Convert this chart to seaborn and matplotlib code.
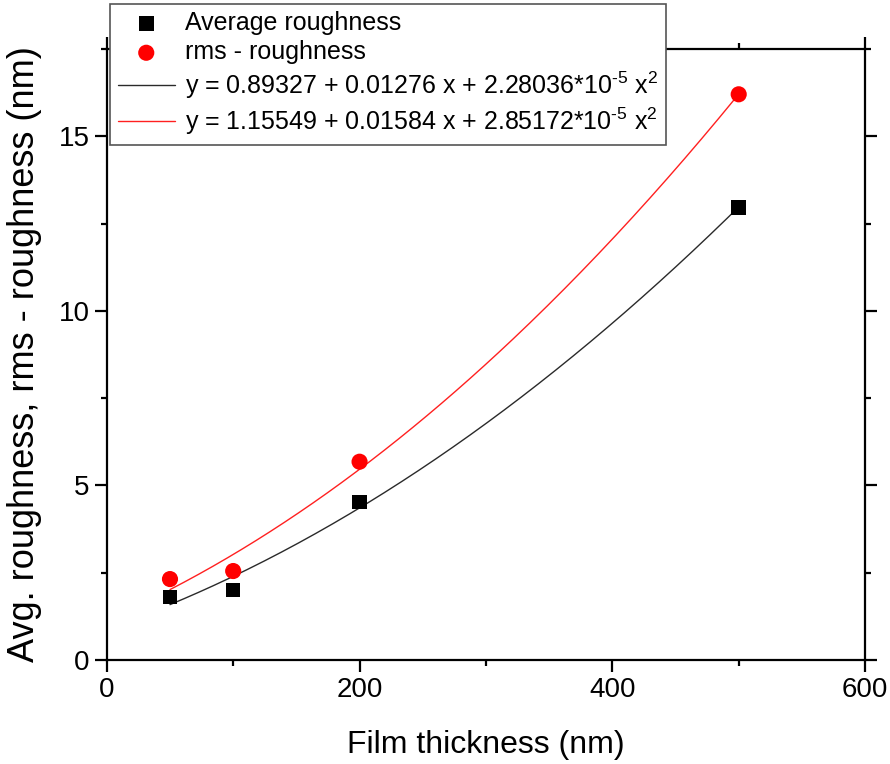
import numpy as np
import pandas as pd
import matplotlib
matplotlib.use("Agg")
import matplotlib.pyplot as plt
from matplotlib.ticker import MultipleLocator
import seaborn as sns

# Measured roughness versus film thickness
thickness = [50, 100, 200, 500]
avg_roughness = [1.81, 2.01, 4.53, 12.96]
rms_roughness = [2.32, 2.55, 5.68, 16.20]

# Quadratic fit coefficients (c0, c1, c2)
avg_fit = [0.89327, 0.01276, 2.28036e-5]
rms_fit = [1.15549, 0.01584, 2.85172e-5]

avg_label = "Average roughness"
rms_label = "rms - roughness"
avg_fit_label = r"y = 0.89327 + 0.01276 x + 2.28036*10$^{\text{-5}}$ x$^{\mathregular{2}}$"
rms_fit_label = r"y = 1.15549 + 0.01584 x + 2.85172*10$^{\text{-5}}$ x$^{\mathregular{2}}$"

sns.set_theme(style="white")
plt.rcParams["font.family"] = ["Liberation Sans", "DejaVu Sans"]
plt.rcParams["mathtext.fontset"] = "custom"
plt.rcParams["mathtext.rm"] = "Liberation Sans"
plt.rcParams["mathtext.default"] = "regular"
plt.rcParams["text.color"] = "black"
plt.rcParams["axes.labelcolor"] = "black"
plt.rcParams["xtick.color"] = "black"
plt.rcParams["ytick.color"] = "black"

fig = plt.figure(figsize=(8.9, 7.64), dpi=100)
ax = fig.add_axes([0.120, 0.136, 0.852, 0.800])

pts = pd.DataFrame({"x": thickness, "avg": avg_roughness, "rms": rms_roughness})
xs = np.linspace(min(thickness), max(thickness), 200)
curves = pd.DataFrame({
    "x": xs,
    "avg": avg_fit[0] + avg_fit[1] * xs + avg_fit[2] * xs ** 2,
    "rms": rms_fit[0] + rms_fit[1] * xs + rms_fit[2] * xs ** 2,
})

sns.lineplot(data=curves, x="x", y="avg", ax=ax, color="#2a2a2a", lw=1.0,
             label=avg_fit_label, zorder=2)
sns.lineplot(data=curves, x="x", y="rms", ax=ax, color="#ff2020", lw=1.0,
             label=rms_fit_label, zorder=2)
sns.scatterplot(data=pts, x="x", y="avg", ax=ax, marker="s", s=110, color="black",
                edgecolor="none", label=avg_label, zorder=3)
sns.scatterplot(data=pts, x="x", y="rms", ax=ax, marker="o", s=135, color="#ff0000",
                edgecolor="none", label=rms_label, zorder=3)

handles, labels = ax.get_legend_handles_labels()
if ax.get_legend() is not None:
    ax.get_legend().remove()

ax.set_xlim(0, 600)
ax.set_ylim(0, 17.5)
ax.xaxis.set_major_locator(MultipleLocator(200))
ax.xaxis.set_minor_locator(MultipleLocator(100))
ax.yaxis.set_major_locator(MultipleLocator(5))
ax.yaxis.set_minor_locator(MultipleLocator(2.5))

for sp in ax.spines.values():
    sp.set_visible(True)
    sp.set_color("black")
    sp.set_linewidth(1.6)

ax.tick_params(which="both", direction="out", color="black", width=1.6,
               top=True, right=True, bottom=True, left=True,
               labeltop=False, labelright=False)
ax.tick_params(which="major", length=8.5, labelsize=20, pad=4)
ax.tick_params(which="minor", length=4.5)

ax.set_xlabel("Film thickness (nm)", fontsize=23, labelpad=19)
ax.set_ylabel("Avg. roughness, rms - roughness (nm)", fontsize=26, labelpad=12)

order = [2, 3, 0, 1]
leg = fig.legend([handles[i] for i in order], [labels[i] for i in order],
                 loc="upper left", bbox_to_anchor=(0.1236, 0.995),
                 fontsize=18, frameon=True, fancybox=False, shadow=False,
                 framealpha=1, edgecolor="#555555", borderpad=0.3,
                 labelspacing=0.2, handlelength=2.3, handletextpad=0.4,
                 borderaxespad=0)
leg.get_frame().set_linewidth(1.2)

fig.savefig("out.png", dpi=100)
